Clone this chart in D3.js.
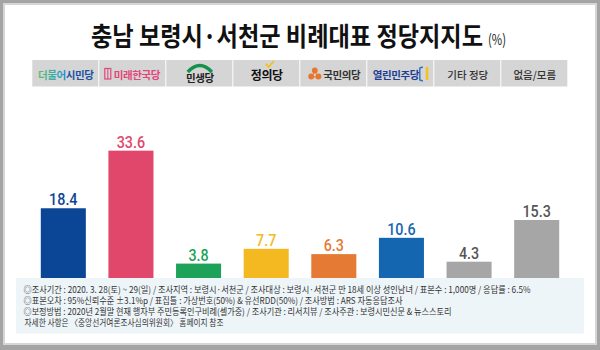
<!DOCTYPE html>
<html>
<meta charset="utf-8" />
<script src="https://d3js.org/d3.v7.min.js"></script>
<style>
  body { margin: 0; background: #fff; }
  text { font-family: "Noto Sans CJK KR", "Noto Sans", sans-serif; }
  .num { font-family: Roboto, "Noto Sans", sans-serif; font-weight: 500; }
</style>
<body>
<div id="chart"></div>
<script>
// data
const parties = ["더불어시민당", "미래한국당", "민생당", "정의당", "국민의당", "열린민주당", "기타 정당", "없음/모름"];
const values = [18.4, 33.6, 3.8, 7.7, 6.3, 10.6, 4.3, 15.3];
const barColors = ["#0b4595", "#e0476b", "#1ea25a", "#f4b921", "#e57a35", "#1566b0", "#a6a6a6", "#a6a6a6"];
const labelColors = ["#0b4595", "#e0476b", "#1ea25a", "#f4b921", "#e57a35", "#1566b0", "#555555", "#555555"];
const partyTextColors = ["url(#gradDeobul)", "#e2467a", "#222222", "#111111", "#333333", "#1c3f94", "#333333", "#333333"];
const titleMain = "충남 보령시·서천군 비례대표 정당지지도";
const titleUnit = "(%)";
const notes = [
  "◎조사기간 : 2020. 3. 28(토) ~ 29(일) / 조사지역 : 보령시·서천군 / 조사대상 : 보령시·서천군 만 18세 이상 성인남녀 / 표본수 : 1,000명 / 응답률 : 6.5%",
  "◎표본오차 : 95%신뢰수준 ±3.1%p  / 표집틀 : 가상번호(50%) & 유선RDD(50%) / 조사방법 : ARS 자동응답조사",
  "◎보정방법 : 2020년 2월말 현재 행자부 주민등록인구비례(셀가중) / 조사기관 : 리서치뷰 / 조사주관 : 보령시민신문 & 뉴스스토리",
  "자세한 사항은 〈중앙선거여론조사심의위원회〉 홈페이지 참조"
];
const noteWidths = [507, 379, 428, 199];

const W = 600, H = 350;

const svg = d3.select("#chart").append("svg")
  .attr("width", W).attr("height", H);

const defs = svg.append("defs");
const grad = defs.append("linearGradient").attr("id", "gradDeobul");
grad.append("stop").attr("offset", "0%").attr("stop-color", "#5cc06a");
grad.append("stop").attr("offset", "45%").attr("stop-color", "#2a9bd0");
grad.append("stop").attr("offset", "55%").attr("stop-color", "#1f4fa0");
grad.append("stop").attr("offset", "100%").attr("stop-color", "#1f4fa0");

// frame
svg.append("rect").attr("width", W).attr("height", H).attr("fill", "#a4a4a4");
svg.append("rect").attr("x", 3).attr("y", 3).attr("width", W - 6).attr("height", H - 8)
  .attr("fill", "#d6d6d6");
svg.append("rect").attr("x", 5).attr("y", 5).attr("width", W - 10).attr("height", H - 12)
  .attr("fill", "#ffffff");

// title, unit kept in the same text element
const title = svg.append("text")
  .attr("x", 91).attr("y", 46)
  .attr("fill", "#111");
title.append("tspan")
  .attr("font-size", 26).attr("font-weight", 700)
  .attr("textLength", 392).attr("lengthAdjust", "spacingAndGlyphs")
  .text(titleMain);
title.append("tspan")
  .attr("x", 488).attr("dy", -1)
  .attr("font-size", 15).attr("font-weight", 400).attr("fill", "#1a1a1a")
  .attr("textLength", 18).attr("lengthAdjust", "spacingAndGlyphs")
  .text(titleUnit);

// header row of party names
const hx = d3.scaleBand().domain(parties).range([32.3, 568.3]);
const header = svg.append("g");
header.selectAll("rect").data(parties).enter().append("rect")
  .attr("x", d => hx(d))
  .attr("y", 60)
  .attr("width", hx.bandwidth() - 1)
  .attr("height", 26.5)
  .attr("fill", "#d5d5d5");

// text offsets inside the cell to leave room for the little logos
const textShift = [0, 4, 0, 0, 8, -5, 0, 0];
const textBase = [79, 79, 82, 80, 79, 79, 79, 79];
header.selectAll("text").data(parties).enter().append("text")
  .attr("x", (d, i) => hx(d) + hx.bandwidth() / 2 + textShift[i])
  .attr("y", (d, i) => textBase[i])
  .attr("text-anchor", "middle")
  .attr("font-size", (d, i) => i === 3 ? 12 : 10.5)
  .attr("font-weight", (d, i) => i >= 6 ? 500 : 700)
  .attr("letter-spacing", (d, i) => i < 6 ? -0.4 : 0)
  .attr("fill", (d, i) => partyTextColors[i])
  .text(d => d);

// small logos
const cx = i => hx(parties[i]) + hx.bandwidth() / 2;
// 미래한국당 door
header.append("rect").attr("x", cx(1) - 28).attr("y", 68.5).attr("width", 6).attr("height", 10.5)
  .attr("fill", "none").attr("stroke", "#e2467a").attr("stroke-width", 1.2);
header.append("line").attr("x1", cx(1) - 25).attr("x2", cx(1) - 25).attr("y1", 69).attr("y2", 79)
  .attr("stroke", "#e2467a").attr("stroke-width", 1);
// 민생당 arc
header.append("path")
  .attr("d", `M${cx(2) - 12},72 Q${cx(2)},59 ${cx(2) + 12},72`)
  .attr("fill", "none").attr("stroke", "#14914a").attr("stroke-width", 3.5);
// 정의당 check
header.append("path")
  .attr("d", `M${cx(3) - 1},64 L${cx(3) + 2},67 L${cx(3) + 7},61`)
  .attr("fill", "none").attr("stroke", "#f2c21b").attr("stroke-width", 1.8);
// 국민의당 dots
[[0, -3.5], [-3.6, 2.5], [3.6, 2.5]].forEach(p => {
  header.append("circle").attr("cx", cx(4) - 19 + p[0]).attr("cy", 74 + p[1]).attr("r", 2.9)
    .attr("fill", "#e8762d");
});
header.append("path")
  .attr("d", `M${cx(4) - 19},71 L${cx(4) - 22},77 L${cx(4) - 16},77 Z`)
  .attr("fill", "none").attr("stroke", "#e8762d").attr("stroke-width", 1);
// 열린민주당 bracket
header.append("path")
  .attr("d", `M${cx(5) + 22},67 L${cx(5) + 19},68 L${cx(5) + 19},80 L${cx(5) + 22},81`)
  .attr("fill", "none").attr("stroke", "#2a6fc0").attr("stroke-width", 1.4);
header.append("rect").attr("x", cx(5) + 25).attr("y", 67).attr("width", 2.5).attr("height", 13)
  .attr("fill", "#f3c21c");

// bars
const x = d3.scaleBand().domain(parties).range([29.5, 570.5]).paddingInner(0.334).paddingOuter(0.167);
const y = d3.scaleLinear().domain([0, 40]).range([278, 126.4]);

// notes box (drawn first so bars sit on it)
svg.append("rect")
  .attr("x", 16).attr("y", 278).attr("width", 568).attr("height", 55.5)
  .attr("fill", "#eef5f9");

svg.append("g").selectAll("rect").data(values).enter().append("rect")
  .attr("x", (d, i) => x(parties[i]))
  .attr("y", d => y(d))
  .attr("width", x.bandwidth())
  .attr("height", d => y(0) - y(d))
  .attr("fill", (d, i) => barColors[i]);

svg.append("g").selectAll("text").data(values).enter().append("text")
  .attr("class", "num")
  .attr("x", (d, i) => x(parties[i]) + x.bandwidth() / 2)
  .attr("y", d => y(d) - 3)
  .attr("text-anchor", "middle")
  .attr("font-size", 17)
  .attr("fill", (d, i) => labelColors[i])
  .attr("textLength", d => {
    const s = d.toFixed(1);
    return (s.length - 1) * 8.2 + 3.8;
  })
  .attr("lengthAdjust", "spacingAndGlyphs")
  .text(d => d.toFixed(1));

// notes text
svg.append("g").selectAll("text").data(notes).enter().append("text")
  .attr("x", (d, i) => i === 3 ? 24.5 : 23.5)
  .attr("y", (d, i) => 292.5 + i * 11)
  .attr("font-size", 9)
  .attr("fill", "#333")
  .attr("textLength", (d, i) => noteWidths[i])
  .attr("lengthAdjust", "spacingAndGlyphs")
  .text(d => d);
</script>
</body>
</html>
